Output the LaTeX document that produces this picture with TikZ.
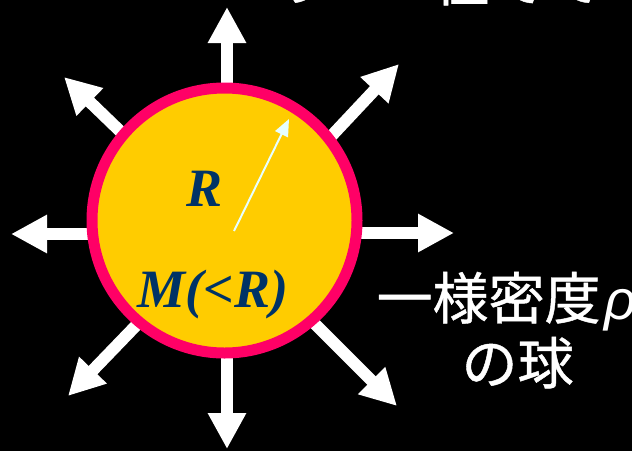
\documentclass[tikz,border=0pt]{standalone}
\usepackage{fontspec}
\setmainfont{Liberation Serif}
\newfontfamily\jp[FakeBold=0.8]{Noto Sans CJK JP}
\newfontfamily\lsans{Liberation Sans}
\usetikzlibrary{arrows.meta}
\definecolor{sunyellow}{HTML}{FFCC00}
\definecolor{ringpink}{HTML}{FF0066}
\definecolor{navyink}{HTML}{003366}
\definecolor{paleline}{HTML}{E6FFFF}
\begin{document}
\begin{tikzpicture}[x=1pt,y=-1pt,
  flow/.style={draw=white, line width=12pt, -{Triangle[width=36pt,length=36pt]}},
  radius arrow/.style={draw=paleline, line width=2pt, -{Triangle[width=14pt,length=17pt]}},
  ballstyle/.style={circle, draw=ringpink, fill=sunyellow, line width=11pt, minimum size=265pt, inner sep=0pt},
  mathlabel/.style={anchor=base, text=navyink, font=\fontsize{54}{60}\selectfont\bfseries\itshape},
  jplabel/.style={anchor=base west, text=white, font=\jp\fontsize{56}{60}\selectfont}]
\fill[black] (0,0) rectangle (632,451);
\useasboundingbox (0,0) rectangle (632,451);
\clip (0,0) rectangle (632,451);

% arrow start points (hidden behind the sphere) and tips
\coordinate (sN) at (227,150);  \coordinate (tN) at (227,7);
\coordinate (sS) at (227,300);  \coordinate (tS) at (227,449);
\coordinate (sW) at (150,234);  \coordinate (tW) at (11,234);
\coordinate (sE) at (300,233);  \coordinate (tE) at (454,233);
\coordinate (sNE) at (262,210); \coordinate (tNE) at (399,64);
\coordinate (sNW) at (208,216); \coordinate (tNW) at (64,77);
\coordinate (sSW) at (207,252); \coordinate (tSW) at (68,396);
\coordinate (sSE) at (256,265); \coordinate (tSE) at (397,406);

\foreach \d in {N,S,W,E,NE,NW,SW,SE} {\draw[flow] (s\d) -- (t\d);}

\node[ballstyle] (ball) at (224.5,220.5) {};

\coordinate (rc) at (234,231);
\coordinate (rt) at (289,119);
\draw[radius arrow] (rc) -- (rt);

\node[mathlabel] (lblR) at (205,206) {R};
\node[mathlabel] (lblM) at (213,307) {M(<R)};

\node[jplabel] (line1) at (373,319) {一様密度\hspace{4pt}{\lsans\itshape ρ}};
\node[jplabel] (line2) at (458,384) {の球};

\node[jplabel] (toptext) at (262,1) {の　　径でて};
\end{tikzpicture}
\end{document}
